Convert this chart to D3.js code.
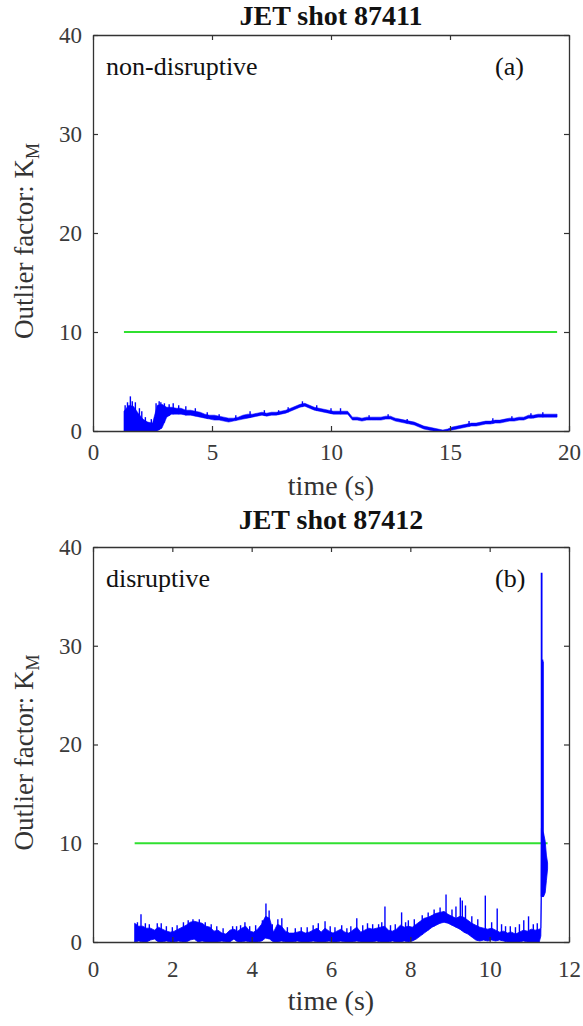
<!DOCTYPE html>
<html>
<head>
<meta charset="utf-8">
<script src="https://cdn.jsdelivr.net/npm/d3@7/dist/d3.min.js"></script>
<style>
  body { margin: 0; background: #fff; }
</style>
</head>
<body>
<div id="chart"></div>
<script>
// ---- panel (a): JET shot 87411, non-disruptive ----
const timeA = [
  1.3, 1.5, 1.7, 1.9,
  2.1, 2.3, 2.5, 2.7, 2.9,
  3.1, 3.3, 3.5, 3.7, 3.9,
  4.1, 4.3, 4.5, 4.7, 4.9,
  5.1, 5.3, 5.5, 5.7, 5.9,
  6.1, 6.3, 6.5, 6.7, 6.9,
  7.1, 7.3, 7.5, 7.7, 7.9,
  8.1, 8.3, 8.5, 8.7, 8.9,
  9.1, 9.3, 9.5, 9.7, 9.9,
  10.1, 10.3, 10.5, 10.7, 10.9,
  11.1, 11.3, 11.5, 11.7, 11.9,
  12.1, 12.3, 12.5, 12.7, 12.9,
  13.1, 13.3, 13.5, 13.7, 13.9,
  14.1, 14.3, 14.5, 14.7, 14.9,
  15.1, 15.3, 15.5, 15.7, 15.9,
  16.1, 16.3, 16.5, 16.7, 16.9,
  17.1, 17.3, 17.5, 17.7, 17.9,
  18.1, 18.3, 18.5, 18.7, 18.9,
  19.1, 19.3, 19.5
];
const highA = [
  2.0, 2.6, 2.5, 1.8,
  1.2, 0.9, 0.8, 2.6, 2.7,
  2.4, 2.4, 2.3, 2.3, 2.1,
  2.1, 2.0, 1.9, 1.7, 1.6,
  1.6, 1.5, 1.4, 1.3, 1.3,
  1.4, 1.6, 1.7, 1.7, 1.8,
  1.9, 1.8, 1.9, 1.9, 2.0,
  2.1, 2.3, 2.5, 2.7, 2.8,
  2.6, 2.4, 2.3, 2.2, 2.1,
  2.0, 2.0, 2.0, 2.0, 1.4,
  1.4, 1.3, 1.4, 1.4, 1.4,
  1.4, 1.5, 1.5, 1.3, 1.2,
  1.1, 1.0, 0.9, 0.7, 0.5,
  0.4, 0.3, 0.2, 0.1, 0.2,
  0.4, 0.5, 0.6, 0.7, 0.8,
  0.8, 0.9, 1.0, 1.0, 1.1,
  1.1, 1.2, 1.3, 1.3, 1.4,
  1.4, 1.6, 1.6, 1.7, 1.7,
  1.7, 1.7, 1.7
];
const lowA = [
  0.0, 0.0, 0.0, 0.0,
  0.0, 0.0, 0.0, 0.0, 0.3,
  1.4, 1.7, 1.7, 1.7, 1.6,
  1.6, 1.5, 1.4, 1.3, 1.2,
  1.1, 1.1, 1.0, 0.9, 1.0,
  1.1, 1.2, 1.3, 1.4, 1.5,
  1.6, 1.5, 1.6, 1.6, 1.7,
  1.8, 2.0, 2.2, 2.4, 2.5,
  2.3, 2.1, 2.0, 1.9, 1.8,
  1.7, 1.7, 1.7, 1.7, 1.1,
  1.1, 1.0, 1.1, 1.1, 1.1,
  1.1, 1.2, 1.2, 1.0, 0.9,
  0.8, 0.7, 0.6, 0.4, 0.2,
  0.1, 0.0, 0.0, 0.0, 0.0,
  0.1, 0.2, 0.3, 0.4, 0.5,
  0.5, 0.6, 0.7, 0.7, 0.8,
  0.8, 0.9, 1.0, 1.0, 1.1,
  1.1, 1.3, 1.3, 1.4, 1.4,
  1.4, 1.4, 1.4
];
const spikeTimeA = [1.35, 1.45, 1.57, 1.65, 1.78, 1.95, 2.05, 2.2, 2.45, 2.65, 2.78, 2.85, 3.0, 3.37, 3.6,
  3.2, 3.9, 4.3, 4.8, 5.3, 6.0, 6.6, 7.2, 7.8, 8.2, 8.8, 9.4, 10.0, 10.4,
  11.6, 12.4, 13.2, 15.8, 16.8, 17.6, 18.4, 18.9];
const spikeValA = [2.6, 2.9, 3.5, 3.0, 2.9, 2.3, 2.0, 1.4, 1.2, 2.8, 3.0, 2.9, 2.8, 2.8, 2.6,
  2.7, 2.5, 2.3, 1.9, 1.7, 1.6, 2.0, 2.1, 2.1, 2.4, 3.0, 2.6, 2.3, 2.3,
  1.6, 1.7, 1.2, 1.0, 1.3, 1.5, 1.8, 1.9];
const xTicksA = [0, 5, 10, 15, 20];

// ---- panel (b): JET shot 87412, disruptive ----
const timeB = [
  1.05, 1.15, 1.25, 1.35, 1.45, 1.55, 1.65, 1.75, 1.85, 1.95,
  2.05, 2.15, 2.25, 2.35, 2.45, 2.55, 2.65, 2.75, 2.85, 2.95,
  3.05, 3.15, 3.25, 3.35, 3.45, 3.55, 3.65, 3.75, 3.85, 3.95,
  4.05, 4.15, 4.25, 4.35, 4.45, 4.55, 4.65, 4.75, 4.85, 4.95,
  5.05, 5.15, 5.25, 5.35, 5.45, 5.55, 5.65, 5.75, 5.85, 5.95,
  6.05, 6.15, 6.25, 6.35, 6.45, 6.55, 6.65, 6.75, 6.85, 6.95,
  7.05, 7.15, 7.25, 7.35, 7.45, 7.55, 7.65, 7.75, 7.85, 7.95,
  8.05, 8.15, 8.25, 8.35, 8.45, 8.55, 8.65, 8.75, 8.85, 8.95,
  9.05, 9.15, 9.25, 9.35, 9.45, 9.55, 9.65, 9.75, 9.85, 9.95,
  10.05, 10.15, 10.25, 10.35, 10.45, 10.55, 10.65, 10.75, 10.85, 10.95,
  11.05, 11.15, 11.25, 11.29, 11.305, 11.36, 11.40, 11.43, 11.46
];
const highB = [
  1.9, 1.6, 1.6, 1.4, 1.4, 1.2, 1.5, 1.3, 1.1, 1.0,
  1.1, 1.3, 1.5, 1.7, 2.0, 2.1, 2.0, 1.9, 1.6, 1.5,
  1.1, 1.2, 0.9, 0.8, 1.2, 1.3, 1.1, 1.4, 1.6, 1.1,
  1.0, 1.3, 1.8, 2.6, 2.4, 1.0, 1.8, 1.6, 1.1, 0.9,
  0.9, 1.0, 1.1, 0.9, 1.0, 1.2, 1.4, 1.0, 1.4, 1.1,
  0.9, 1.1, 1.3, 1.0, 0.9, 1.2, 1.5, 1.0, 1.2, 1.4,
  1.3, 1.4, 1.5, 1.6, 1.2, 1.1, 1.3, 1.7, 1.5, 1.6,
  1.5, 1.8, 2.1, 2.4, 2.5, 2.7, 2.9, 3.0, 3.1, 2.8,
  2.6, 2.4, 2.6, 2.5, 2.2, 1.9, 1.7, 1.5, 1.4, 1.3,
  1.4, 1.2, 1.0, 1.1, 0.9, 1.0, 0.8, 1.0, 1.2, 1.1,
  1.3, 1.2, 1.3, 1.4, 11.5, 11.0, 10.2, 8.8, 8.0
];
const lowB = [
  0.0, 0.1, 0.0, 0.0, 0.2, 0.3, 0.0, 0.0, 0.1, 0.0,
  0.0, 0.1, 0.0, 0.0, 0.2, 0.3, 0.0, 0.1, 0.0, 0.0,
  0.0, 0.0, 0.1, 0.0, 0.0, 0.3, 0.0, 0.0, 0.1, 0.0,
  0.0, 0.0, 0.1, 0.4, 0.3, 0.0, 0.0, 0.1, 0.0, 0.0,
  0.0, 0.1, 0.0, 0.0, 0.0, 0.1, 0.0, 0.0, 0.0, 0.1,
  0.0, 0.0, 0.1, 0.0, 0.0, 0.0, 0.1, 0.0, 0.0, 0.0,
  0.0, 0.1, 0.0, 0.0, 0.0, 0.1, 0.0, 0.0, 0.1, 0.0,
  0.1, 0.3, 0.6, 0.9, 1.2, 1.5, 1.7, 1.9, 2.0, 1.9,
  1.7, 1.5, 1.3, 1.0, 0.8, 0.5, 0.2, 0.1, 0.2, 0.1,
  0.2, 0.1, 0.2, 0.1, 0.0, 0.0, 0.0, 0.0, 0.1, 0.0,
  0.0, 0.0, 0.0, 0.6, 4.6, 4.6, 5.0, 6.2, 7.4
];
const spikeTimeB = [1.21, 1.72, 2.28, 3.52, 3.83, 4.27, 4.36, 4.44, 4.66, 4.76,
  5.68, 5.85, 6.27, 6.65, 7.2, 7.36, 7.78, 7.95, 8.9, 9.26,
  9.31, 9.39, 9.89, 10.19, 10.52, 10.86, 10.98, 11.31, 11.33, 11.34,
  1.12, 1.32, 1.42, 1.62, 1.85, 2.0, 2.12, 2.4, 2.52, 2.68,
  2.83, 2.98, 3.12, 3.28, 3.62, 3.72, 3.95, 4.1, 4.52, 4.9,
  5.1, 5.25, 5.4, 5.55, 5.98, 6.1, 6.4, 6.5, 6.8, 6.92,
  7.05, 7.28, 7.5, 7.62, 7.88, 8.1, 8.3, 8.45, 8.6, 8.75,
  9.05, 9.15, 9.55, 9.7, 10.05, 10.3, 10.4, 10.65, 10.75, 11.1,
  11.2];
const spikeValB = [2.8, 1.9, 2.0, 1.6, 2.0, 2.2, 3.9, 3.2, 2.3, 2.4,
  1.9, 2.1, 1.7, 2.4, 1.8, 3.6, 3.0, 2.2, 4.8, 4.5,
  4.2, 3.7, 4.7, 3.4, 1.6, 2.2, 2.6, 37.4, 28.6, 28.4,
  2.0, 1.9, 1.8, 1.9, 1.6, 1.5, 1.7, 2.2, 2.3, 2.3,
  2.0, 1.8, 1.6, 1.4, 1.6, 1.7, 1.6, 1.7, 1.8, 1.5,
  1.4, 1.5, 1.5, 1.7, 1.6, 1.5, 1.4, 1.6, 1.7, 1.9,
  1.8, 2.0, 1.7, 1.8, 2.0, 2.3, 2.7, 3.0, 3.3, 3.5,
  3.3, 3.6, 2.6, 2.3, 2.0, 1.8, 1.6, 1.5, 1.8, 1.8,
  1.9];
const xTicksB = [0, 2, 4, 6, 8, 10, 12];

const yTicks = [0, 10, 20, 30, 40];
const threshold = 10;

const width = 583,
    height = 1026;

const blue = "#0000ff",
    green = "#30e030",
    axisColor = "#333333";

const serif = "'Liberation Serif', 'Times New Roman', serif";

const svg = d3.select("#chart")
    .append("svg")
    .attr("width", width)
    .attr("height", height)
    .style("font-family", serif);

// value of the lower envelope under a spike
function lowAt(times, lows, t) {
    const i = d3.bisectLeft(times, t);
    if (i <= 0) return lows[0];
    if (i >= times.length) return lows[lows.length - 1];
    const f = (t - times[i - 1]) / (times[i] - times[i - 1]);
    return lows[i - 1] + f * (lows[i] - lows[i - 1]);
}

function drawPanel(p) {
    const x = d3.scaleLinear().domain([0, p.xMax]).range([93, 569]);
    const y = d3.scaleLinear().domain([0, 40]).range([p.bottom, p.top]);
    const g = svg.append("g");

    // threshold line
    const ext = d3.extent(p.time);
    g.append("line")
        .attr("x1", x(ext[0]))
        .attr("x2", x(ext[1]))
        .attr("y1", y(threshold))
        .attr("y2", y(threshold))
        .attr("stroke", green)
        .attr("stroke-width", 2);

    // envelope of the outlier factor
    const area = d3.area()
        .x(function(d, i) { return x(p.time[i]) })
        .y0(function(d, i) { return y(p.low[i]) })
        .y1(function(d, i) { return y(p.high[i]) });

    g.append("path")
        .datum(p.time)
        .attr("d", area)
        .attr("fill", blue)
        .attr("stroke", blue)
        .attr("stroke-width", p.edge)
        .attr("stroke-linejoin", "round");

    // narrow spikes
    g.selectAll(null)
        .data(p.spikeTime)
        .join("line")
        .attr("x1", function(d) { return x(d) })
        .attr("x2", function(d) { return x(d) })
        .attr("y1", function(d) { return y(lowAt(p.time, p.low, d)) })
        .attr("y2", function(d, i) { return y(p.spikeVal[i]) })
        .attr("stroke", blue)
        .attr("stroke-width", function(d, i) { return p.spikeVal[i] > 20 ? 1.8 : 1.4 });

    // box with inward ticks on all four sides
    const axes = [
        { axis: d3.axisBottom(x).tickValues(p.xTicks), t: `translate(0,${p.bottom})`, labels: true },
        { axis: d3.axisTop(x).tickValues(p.xTicks), t: `translate(0,${p.top})`, labels: false },
        { axis: d3.axisLeft(y).tickValues(yTicks), t: "translate(93,0)", labels: true },
        { axis: d3.axisRight(y).tickValues(yTicks), t: "translate(569,0)", labels: false }
    ];
    axes.forEach(function(a, k) {
        a.axis.tickSizeInner(-5).tickSizeOuter(0).tickPadding(11);
        if (!a.labels) a.axis.tickFormat("");
        const ag = g.append("g").attr("transform", a.t).call(a.axis);
        ag.attr("font-family", serif).attr("font-size", 23);
        ag.select(".domain").attr("stroke", axisColor).attr("stroke-width", 1.3);
        ag.selectAll(".tick line").attr("stroke", axisColor).attr("stroke-width", 1.2);
        ag.selectAll(".tick text").attr("fill", "#3a3a3a");
        if (k === 0) ag.selectAll(".tick text").attr("dy", null).attr("y", p.xTickY);
    });

    // title
    g.append("text")
        .attr("x", 331)
        .attr("y", p.titleY)
        .attr("text-anchor", "middle")
        .attr("font-size", 28)
        .attr("font-weight", "bold")
        .attr("fill", "#111")
        .text(p.title);

    // x label
    g.append("text")
        .attr("x", 331)
        .attr("y", p.bottom + p.xLabelGap)
        .attr("text-anchor", "middle")
        .attr("font-size", 28)
        .attr("fill", "#333")
        .text("time (s)");

    // y label with subscript
    const yl = g.append("text")
        .attr("transform", `translate(33,${(p.top + p.bottom) / 2 + 8}) rotate(-90)`)
        .attr("text-anchor", "middle")
        .attr("font-size", 27)
        .attr("fill", "#333");
    yl.append("tspan").text("Outlier factor: K");
    yl.append("tspan").attr("font-size", 18).attr("dy", 6).text("M");

    // annotations
    g.append("text")
        .attr("x", 106)
        .attr("y", p.top + 40)
        .attr("font-size", 26)
        .attr("fill", "#111")
        .text(p.note);
    g.append("text")
        .attr("x", 495)
        .attr("y", p.top + 40)
        .attr("font-size", 26)
        .attr("fill", "#111")
        .text(p.tag);
}

drawPanel({
    title: "JET shot 87411", note: "non-disruptive", tag: "(a)",
    top: 35, bottom: 431, xMax: 20, xTicks: xTicksA,
    titleY: 25, xTickY: 29, xLabelGap: 64, edge: 0.5,
    time: timeA, low: lowA, high: highA,
    spikeTime: spikeTimeA, spikeVal: spikeValA
});

drawPanel({
    title: "JET shot 87412", note: "disruptive", tag: "(b)",
    top: 547, bottom: 942, xMax: 12, xTicks: xTicksB,
    titleY: 529, xTickY: 35, xLabelGap: 68, edge: 0.8,
    time: timeB, low: lowB, high: highB,
    spikeTime: spikeTimeB, spikeVal: spikeValB
});
</script>
</body>
</html>
